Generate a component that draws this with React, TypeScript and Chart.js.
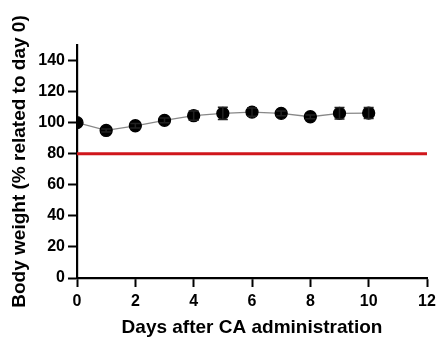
import React, { useEffect, useRef } from "react";
import { Chart, registerables } from "chart.js";

Chart.register(...registerables);

const days = [0, 1, 2, 3, 4, 5, 6, 7, 8, 9, 10];
const bodyWeight = [100, 95, 98, 101.5, 104.5, 106, 106.8, 106, 103.8, 106, 106.2];
const sem = [0, 1, 1.5, 1.5, 3, 4, 2.7, 1.5, 1.2, 3.7, 3.5];
const thresholdX = [0, 12];
const thresholdY = [80, 80];
const xTicks = [0, 2, 4, 6, 8, 10, 12];
const yTicks = [0, 20, 40, 60, 80, 100, 120, 140];

const errorBarPlugin = {
  id: "errorBars",
  afterDatasetsDraw(chart: any) {
    const ctx = chart.ctx;
    const xs = chart.scales.x;
    const ys = chart.scales.y;
    ctx.save();
    ctx.strokeStyle = "#222";
    ctx.lineWidth = 1.5;
    days.forEach((d, i) => {
      const e = sem[i];
      if (!e) return;
      const px = xs.getPixelForValue(d);
      const top = ys.getPixelForValue(bodyWeight[i] + e);
      const bot = ys.getPixelForValue(bodyWeight[i] - e);
      ctx.beginPath();
      ctx.moveTo(px, top);
      ctx.lineTo(px, bot);
      ctx.moveTo(px - 5, top);
      ctx.lineTo(px + 5, top);
      ctx.moveTo(px - 5, bot);
      ctx.lineTo(px + 5, bot);
      ctx.stroke();
    });
    ctx.restore();
  },
};

export default function App() {
  const ref = useRef<HTMLCanvasElement | null>(null);
  useEffect(() => {
    if (!ref.current) return;
    const font = "Liberation Sans, Arial, sans-serif";
    const chart = new Chart(ref.current, {
      type: "line",
      data: {
        datasets: [
          {
            label: "Threshold",
            data: thresholdX.map((x, i) => ({ x, y: thresholdY[i] })),
            borderColor: "#d0161b",
            borderWidth: 3,
            pointRadius: 0,
            order: 2,
          },
          {
            label: "Body weight",
            data: days.map((d, i) => ({ x: d, y: bodyWeight[i] })),
            borderColor: "#888",
            borderWidth: 1.3,
            pointRadius: 6,
            pointBackgroundColor: "#000",
            pointBorderColor: "#000",
            order: 1,
          },
        ],
      },
      options: {
        animation: false,
        responsive: false,
        maintainAspectRatio: false,
        layout: { padding: { top: 45, right: 10, left: 4, bottom: 0 } },
        plugins: { legend: { display: false }, tooltip: { enabled: false } },
        scales: {
          x: {
            type: "linear",
            min: 0,
            max: 12,
            afterBuildTicks: (s: any) => {
              s.ticks = xTicks.map((v) => ({ value: v }));
            },
            afterFit: (s: any) => {
              s.height = 61;
              s.paddingRight = 0;
              s.paddingLeft = 0;
            },
            grid: {
              display: true,
              drawOnChartArea: false,
              drawTicks: true,
              tickLength: 9,
              tickWidth: 2,
              tickColor: "#000",
            },
            border: { color: "#000", width: 2.2 },
            ticks: {
              color: "#000",
              padding: 5,
              font: { family: font, size: 16, weight: "bold" },
            },
            title: {
              display: true,
              text: "Days after CA administration",
              color: "#000",
              padding: { top: 0, bottom: 0 },
              font: { family: font, size: 19, weight: "bold" },
            },
          },
          y: {
            type: "linear",
            min: 0,
            max: 150,
            afterBuildTicks: (s: any) => {
              s.ticks = yTicks.map((v) => ({ value: v }));
            },
            afterFit: (s: any) => {
              s.width = 73;
            },
            grid: {
              display: true,
              drawOnChartArea: false,
              drawTicks: true,
              tickLength: 9,
              tickWidth: 2,
              tickColor: "#000",
            },
            border: { color: "#000", width: 2.2 },
            ticks: {
              color: "#000",
              padding: 3,
              font: { family: font, size: 16, weight: "bold" },
            },
            title: {
              display: true,
              text: "Body weight (% related to day 0)",
              color: "#000",
              padding: { top: 4, bottom: 0 },
              font: { family: font, size: 19, weight: "bold" },
            },
          },
        },
      },
      plugins: [errorBarPlugin],
    } as any);
    return () => chart.destroy();
  }, []);
  return (
    <div style={{ position: "absolute", left: 0, top: 0, width: 437, height: 339, background: "#fff" }}>
      <canvas ref={ref} width={437} height={339} style={{ width: 437, height: 339 }} />
    </div>
  );
}
